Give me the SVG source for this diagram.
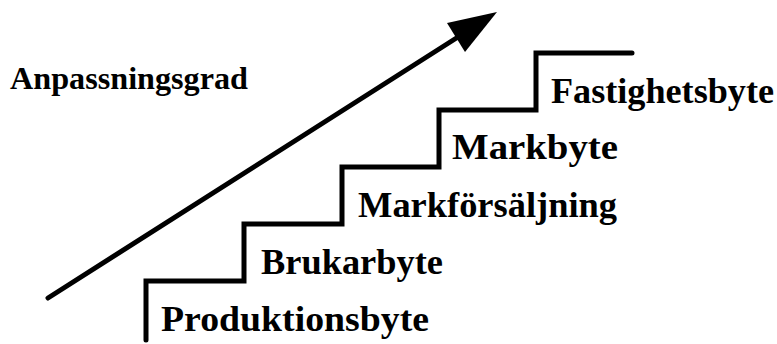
<svg xmlns="http://www.w3.org/2000/svg" width="777" height="344" viewBox="0 0 777 344">
  <style>
    .lbl { font-family: "Liberation Serif", "Times New Roman", serif; font-weight: bold; font-size: 36px; fill: #000; }
    .title { font-family: "Liberation Serif", "Times New Roman", serif; font-weight: bold; font-size: 32px; fill: #000; }
    .line { fill: none; stroke: #000; stroke-width: 5; stroke-linecap: round; stroke-linejoin: miter; }
  </style>
  <rect width="777" height="344" fill="#fff"/>
  <g id="connectors">
    <path class="line" d="M146,340 V281 H244 V224 H342 V167 H439 V110 H536 V53 H632"/>
    <line class="line" x1="48" y1="298" x2="458" y2="37"/>
    <polygon points="497,12 447,23 465,52" fill="#000"/>
  </g>
  <g id="anpassningsgrad">
    <text class="title" x="10" y="89" textLength="238" lengthAdjust="spacingAndGlyphs">Anpassningsgrad</text>
  </g>
  <g id="produktionsbyte">
    <text class="lbl" x="161" y="331" textLength="268" lengthAdjust="spacingAndGlyphs">Produktionsbyte</text>
  </g>
  <g id="brukarbyte">
    <text class="lbl" x="261" y="274" textLength="182" lengthAdjust="spacingAndGlyphs">Brukarbyte</text>
  </g>
  <g id="markforsaljning">
    <text class="lbl" x="358" y="217" textLength="259" lengthAdjust="spacingAndGlyphs">Markförsäljning</text>
  </g>
  <g id="markbyte">
    <text class="lbl" x="452" y="159" textLength="166" lengthAdjust="spacingAndGlyphs">Markbyte</text>
  </g>
  <g id="fastighetsbyte">
    <text class="lbl" x="551" y="103" textLength="223" lengthAdjust="spacingAndGlyphs">Fastighetsbyte</text>
  </g>
</svg>
